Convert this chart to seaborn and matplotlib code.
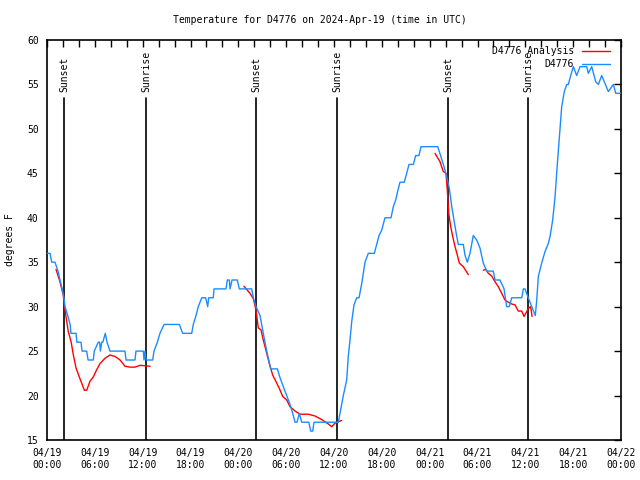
import numpy as np
import pandas as pd
import matplotlib
matplotlib.use("Agg")
import matplotlib.pyplot as plt
import matplotlib.dates as mdates
from matplotlib.lines import Line2D
import seaborn as sns

START = pd.Timestamp("2024-04-19 00:00")

# Observed station temperature (hours since START, deg F)
obs_hours = [0.00, 0.38, 0.59, 1.00, 1.38, 1.63, 1.90, 2.13, 2.26, 2.60, 2.90, 3.00, 3.64, 3.75, 4.26, 4.40,
             4.98, 5.15, 5.81, 5.93, 6.43, 6.60, 6.70, 6.86, 7.00, 7.31, 7.53, 7.90, 9.78, 9.91, 11.04, 11.16,
             12.08, 12.17, 12.29, 12.45, 13.26, 13.42, 13.84, 14.17, 14.68, 16.60, 17.02, 18.15, 18.35, 18.69,
             18.98, 19.41, 19.90, 20.16, 20.28, 20.86, 20.95, 22.45, 22.62, 22.87, 22.96, 23.21, 23.87, 24.12,
             25.68, 25.88, 26.22, 26.72, 27.13, 27.56, 28.06, 28.89, 29.23, 29.64, 30.07, 30.48, 30.82, 31.11,
             31.36, 31.65, 31.95, 32.83, 33.08, 33.33, 33.49, 36.54, 36.75, 37.17, 37.59, 37.79, 38.01, 38.22,
             38.51, 38.85, 39.14, 39.48, 39.89, 40.30, 41.06, 41.36, 41.65, 41.98, 42.40, 43.15, 43.44, 43.74,
             43.99, 44.28, 44.82, 45.12, 45.41, 45.95, 46.25, 46.66, 46.91, 49.01, 49.30, 49.80, 50.14, 50.47,
             50.77, 51.05, 51.30, 51.59, 52.22, 52.43, 52.72, 53.06, 53.47, 53.90, 54.31, 54.73, 55.16, 55.98,
             56.20, 56.82, 57.33, 57.66, 57.99, 58.29, 59.55, 59.75, 59.96, 60.37, 60.80, 61.25, 61.43, 61.63,
             62.05, 62.47, 62.88, 63.10, 63.43, 63.72, 64.01, 64.35, 64.56, 64.89, 65.19, 65.39, 65.69, 66.02,
             66.44, 66.86, 67.70, 67.90, 68.33, 68.83, 69.16, 69.58, 70.41, 71.04, 71.34, 72.00]
obs_temp = [36, 36, 35, 35, 34, 33, 32, 31, 30, 29, 28, 27, 27, 26, 26, 25,
            25, 24, 24, 25, 26, 26, 25, 26, 26, 27, 26, 25, 25, 24, 24, 25,
            25, 24, 25, 24, 24, 25, 26, 27, 28, 28, 27, 27, 28, 29,
            30, 31, 31, 30, 31, 31, 32, 32, 33, 33, 32, 33, 33, 32,
            32, 31, 30, 29, 27, 25, 23, 23, 22, 21, 20, 19, 18, 17,
            17, 18, 17, 17, 16, 16, 17, 17, 18, 20, 21.75, 24.4, 26.25, 28.3,
            30.2, 31, 31, 32.6, 35, 36, 36, 37, 38, 38.6, 40, 40, 41.25, 42,
            43, 44, 44, 45, 46, 46, 47, 47, 48, 48, 47.2, 45.75, 44.6, 43.3,
            41.25, 39.75, 38.4, 37, 37, 35.8, 35, 36, 38, 37.5, 36.6, 34.9, 34, 34,
            33, 33, 32, 30, 30, 31, 31, 32, 32, 31, 30, 29, 30.75, 33.4,
            34.9, 36.2, 37.1, 37.9, 39.75, 42.3, 46, 50, 52.5, 54.2, 55, 55, 56, 57,
            56, 57, 57, 56.25, 57, 55.3, 55, 56, 54.2, 55, 54, 54]

# Analysis temperature (broken into segments)
ana_hours = [1.13, 1.63, 2.04, 2.17, 2.38, 2.67, 3.01, 3.30, 3.64, 4.05, 4.35, 4.68, 4.98, 5.39, 5.81, 6.23,
             6.65, 7.28, 7.90, 8.53, 9.16, 9.78, 10.41, 11.04, 11.67, 12.29, 12.92,
             24.71, 25.46, 25.88, 26.22, 26.51, 26.84, 27.13, 27.56, 27.89, 28.31, 28.73, 29.14, 29.57, 30.07,
             30.48, 31.11, 31.74, 32.78, 33.62, 34.46, 35.29, 35.71, 36.13, 36.54, 36.97,
             48.67, 49.30, 49.71, 50.05, 50.21, 50.39, 50.64, 50.89, 51.18, 51.47, 51.72, 52.22, 52.85,
             54.73, 55.03, 55.36, 55.78, 56.20, 56.61, 57.04, 57.45, 57.87, 58.29, 58.71, 59.12, 59.55, 59.83,
             60.09, 60.37, 60.67, 60.84]
ana_temp = [34.2, 32.8, 31.3, 30.2, 28.9, 27.2, 26.1, 24.6, 23.1, 22.1, 21.4, 20.6, 20.6, 21.6, 22.1, 22.9,
            23.6, 24.2, 24.56, 24.4, 24.0, 23.3, 23.2, 23.2, 23.4, 23.35, 23.3,
            32.3, 31.5, 30.9, 29.6, 27.6, 27.4, 26.25, 24.75, 23.6, 22.3, 21.56, 20.8, 19.9, 19.5,
            18.75, 18.26, 17.9, 17.9, 17.7, 17.3, 16.8, 16.5, 16.9, 17.06, 17.2,
            47.25, 46.3, 45.2, 45.0, 43.1, 40.5, 39.0, 37.9, 36.75, 35.8, 34.9, 34.5, 33.6,
            34.1, 34.2, 33.75, 33.45, 32.8, 32.25, 31.5, 30.75, 30.5, 30.3, 30.2, 29.5, 29.5, 28.9,
            29.3, 29.8, 30.0, 28.9]
ana_segment = [1] * 27 + [2] * 25 + [3] * 13 + [4] * 18

sun_hours = [2.17, 12.46, 26.22, 36.42, 50.34, 60.37]
sun_labels = ["Sunset", "Sunrise", "Sunset", "Sunrise", "Sunset", "Sunrise"]

y_ticks = [15, 20, 25, 30, 35, 40, 45, 50, 55, 60]

obs_df = pd.DataFrame({"time": START + pd.to_timedelta(obs_hours, unit="h"), "temp": obs_temp})
ana_df = pd.DataFrame({"time": START + pd.to_timedelta(ana_hours, unit="h"), "temp": ana_temp,
                       "segment": ana_segment})

sns.set_theme(style="white")
plt.rcParams["font.family"] = ["DejaVu Sans Mono"]
plt.rcParams["font.size"] = 7

RED = "#ff0000"
BLUE = "#1a8cff"

fig = plt.figure(figsize=(6.4, 4.8), dpi=100)
ax = fig.add_axes([47 / 640, 40 / 480, 574 / 640, 400 / 480])

for h, lab in zip(sun_hours, sun_labels):
    t = START + pd.Timedelta(hours=h)
    ax.axvline(t, ymin=0, ymax=0.855, color="black", lw=1.2, zorder=1)
    ax.text(t, 0.87, lab, transform=ax.get_xaxis_transform(), rotation=90,
            ha="center", va="bottom", fontsize=7, color="black", zorder=4)

sns.lineplot(data=ana_df, x="time", y="temp", units="segment", estimator=None, sort=False,
             color=RED, lw=1.0, ax=ax, zorder=2)
sns.lineplot(data=obs_df, x="time", y="temp", estimator=None, sort=False,
             color=BLUE, lw=1.0, ax=ax, zorder=3)

ax.set_xlim(START, START + pd.Timedelta(hours=72))
ax.set_ylim(15, 60)
ax.set_yticks(y_ticks)
ax.xaxis.set_major_locator(mdates.HourLocator(byhour=[0, 6, 12, 18]))
ax.xaxis.set_minor_locator(mdates.HourLocator(byhour=list(range(0, 24, 2))))
ax.xaxis.set_major_formatter(mdates.DateFormatter("%m/%d\n%H:%M"))
ax.tick_params(axis="both", which="both", direction="in", top=True, right=True,
               length=5, width=1, color="black", labelsize=7, labelcolor="black")
ax.tick_params(axis="x", which="major", pad=6)
ax.tick_params(axis="y", which="major", pad=6)
for sp in ax.spines.values():
    sp.set_color("black")
    sp.set_linewidth(1.2)
    sp.set_visible(True)

ax.set_xlabel("")
ax.set_ylabel("degrees F", fontsize=7, color="black")
ax.yaxis.set_label_coords(-0.056, 0.5)
fig.suptitle("Temperature for D4776 on 2024-Apr-19 (time in UTC)", x=0.5, y=1 - 20 / 480,
             va="center", fontsize=7, color="black")

handles = [Line2D([], [], color=RED, lw=1.0), Line2D([], [], color=BLUE, lw=1.0)]
leg = ax.legend(handles, ["D4776 Analysis", "D4776"], loc="upper right",
                bbox_to_anchor=(0.981, 0.985), frameon=False, markerfirst=False,
                handlelength=2.9, handletextpad=0.8, labelspacing=0.35, borderpad=0,
                borderaxespad=0, fontsize=7)
for txt in leg.get_texts():
    txt.set_color("black")
leg.set_zorder(5)

fig.savefig("out.png", dpi=100)
